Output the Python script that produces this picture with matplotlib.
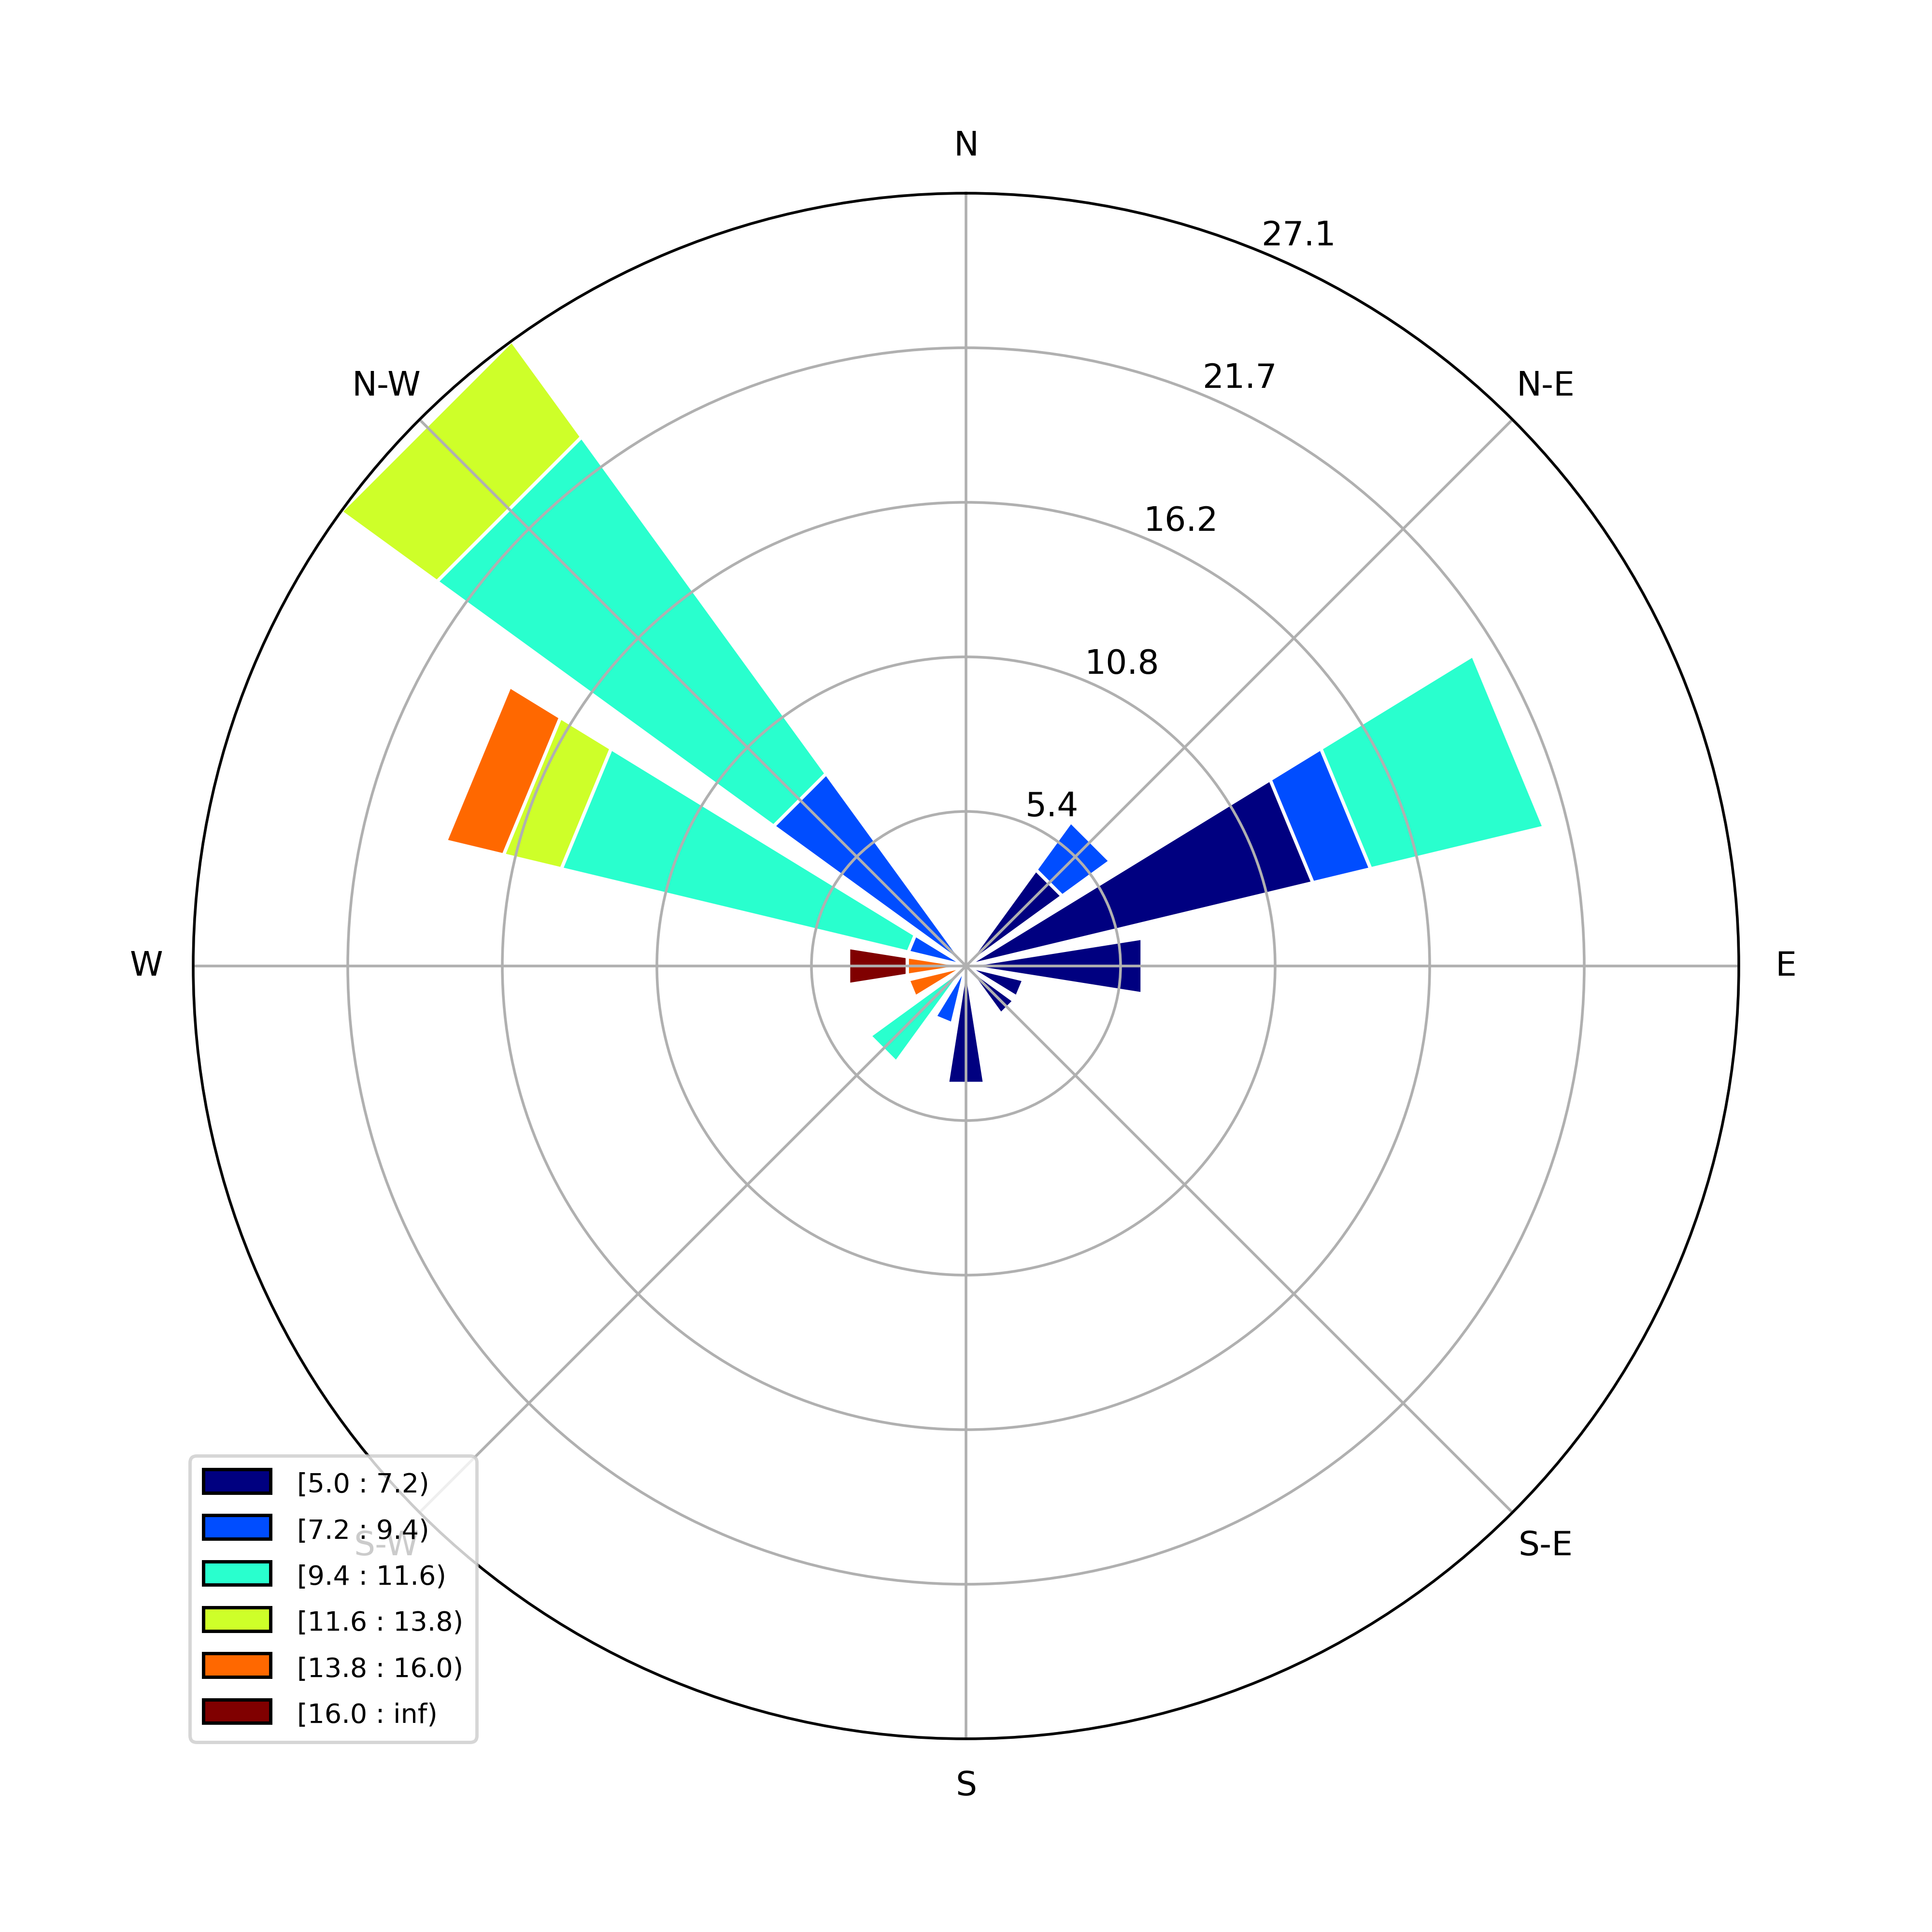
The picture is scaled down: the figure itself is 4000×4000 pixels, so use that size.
import numpy as np
import matplotlib
matplotlib.use('Agg')
import matplotlib.pyplot as plt
from matplotlib.patches import Rectangle

# 16 sectors, clockwise from north: N, NNE, NE, ENE, E, ESE, SE, SSE,
# S, SSW, SW, WSW, W, WNW, NW, NNW
directions = np.arange(0, 360, 22.5)

# number of observations per sector for each speed bin (48 in total)
counts_5_7 = [0, 0, 2, 6, 3, 1, 1, 0, 2, 0, 0, 0, 0, 0, 0, 0]
counts_7_9 = [0, 0, 1, 1, 0, 0, 0, 0, 0, 1, 0, 0, 0, 1, 4, 0]
counts_9_12 = [0, 0, 0, 3, 0, 0, 0, 0, 0, 0, 2, 0, 0, 6, 7, 0]
counts_12_14 = [0, 0, 0, 0, 0, 0, 0, 0, 0, 0, 0, 0, 0, 1, 2, 0]
counts_14_16 = [0, 0, 0, 0, 0, 0, 0, 0, 0, 0, 0, 1, 1, 1, 0, 0]
counts_16_up = [0, 0, 0, 0, 0, 0, 0, 0, 0, 0, 0, 0, 1, 0, 0, 0]

bin_labels = ["[5.0 : 7.2)", "[7.2 : 9.4)", "[9.4 : 11.6)",
              "[11.6 : 13.8)", "[13.8 : 16.0)", "[16.0 : inf)"]
compass_labels = ["N", "N-E", "E", "S-E", "S", "S-W", "W", "N-W"]
radii_labels = ["5.4", "10.8", "16.2", "21.7", "27.1"]

table = np.array([counts_5_7, counts_7_9, counts_9_12,
                  counts_12_14, counts_14_16, counts_16_up], dtype=float)
table = table / table.sum() * 100  # percent of all observations

nbins = table.shape[0]
colors = plt.cm.jet(np.linspace(0.0, 1.0, nbins))
opening = np.deg2rad(22.5) * 0.8

fig = plt.figure(figsize=(8, 8), dpi=500, facecolor='white')
ax = fig.add_axes([0.1, 0.1, 0.8, 0.8], projection='polar')
ax.set_theta_zero_location('N')
ax.set_theta_direction(-1)

theta = np.deg2rad(directions)
offset = np.zeros(len(directions))
for i in range(nbins):
    bars = ax.bar(theta, table[i], width=opening, bottom=offset, color=colors[i],
                  edgecolor='white', linewidth=1, zorder=1 - 0.01 * i)
    # straight outer edges, like the windrose rectangles
    for b in bars:
        b.get_path()._interpolation_steps = 1
    offset = offset + table[i]

rmax = offset.max()
ax.set_ylim(0, rmax)
radii = np.linspace(0, rmax, 6)[1:]
ax.set_rgrids(radii, labels=radii_labels, angle=22.5)
ax.set_thetagrids(np.arange(0, 360, 45), labels=compass_labels)

handles = [Rectangle((0, 0), 0.2, 0.2, facecolor=c, edgecolor='black') for c in colors]
leg = ax.legend(handles, bin_labels, loc='lower left', borderaxespad=-0.10)
plt.setp(leg.get_texts(), fontsize=8)

fig.savefig('out.png', dpi=500)
